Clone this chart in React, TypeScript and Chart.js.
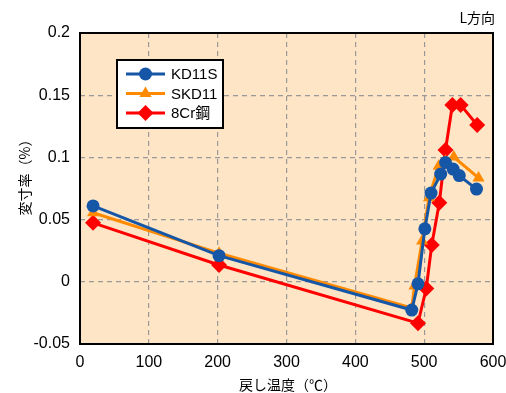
import { useEffect, useRef } from 'react';
import { Chart, registerables } from 'chart.js';

Chart.register(...registerables);

// ---- data ----
const seriesNames = ['KD11S', 'SKD11', '8Cr鋼'];

const kd11sTemp = [19, 202, 482, 491, 501, 510, 524, 531, 542, 551, 576];
const kd11sRate = [0.061, 0.021, -0.0227, -0.0016, 0.0426, 0.0713, 0.0866, 0.0959, 0.0906, 0.0854, 0.0745];

const skd11Temp = [19, 202, 482, 486, 497, 507, 521, 531, 543, 579];
const skd11Rate = [0.0555, 0.023, -0.021, -0.0034, 0.0327, 0.0675, 0.0928, 0.097, 0.1003, 0.0835];

const cr8Temp = [19, 202, 491, 503, 511, 522, 531, 541, 553, 577];
const cr8Rate = [0.0474, 0.0135, -0.0333, -0.0054, 0.0295, 0.0635, 0.106, 0.1422, 0.1422, 0.126];

const xMin = 0;
const xMax = 600;
const xStep = 100;
const yMin = -0.05;
const yMax = 0.2;
const yStep = 0.05;

const xTitle = '戻し温度（℃）';
const yTitle = '変寸率（%）';
const cornerNote = 'L方向';

// ---- styles ----
const BLUE = '#1656a6';
const ORANGE = '#ff8a00';
const RED = '#ff0000';
const PLOT_BG = '#fde5c6';
const LATIN = '"Liberation Sans", Arial, sans-serif';
const MIXED = '"Liberation Sans", "Noto Sans CJK JP", sans-serif';
const CJK = '"Noto Sans CJK JP", "Liberation Sans", sans-serif';

const toPts = (xs: number[], ys: number[]) => xs.map((x, i) => ({ x, y: ys[i] }));

function drawMarker(ctx: CanvasRenderingContext2D, kind: string, x: number, y: number, r: number) {
  ctx.beginPath();
  if (kind === 'circle') {
    ctx.arc(x, y, r, 0, Math.PI * 2);
  } else if (kind === 'triangle') {
    ctx.moveTo(x, y - r);
    ctx.lineTo(x + r * Math.sin(Math.PI * 2 / 3), y - r * Math.cos(Math.PI * 2 / 3));
    ctx.lineTo(x - r * Math.sin(Math.PI * 2 / 3), y - r * Math.cos(Math.PI * 2 / 3));
  } else {
    ctx.moveTo(x, y - r);
    ctx.lineTo(x + r, y);
    ctx.lineTo(x, y + r);
    ctx.lineTo(x - r, y);
  }
  ctx.closePath();
  ctx.fill();
}

const decor = {
  id: 'decor',
  beforeDraw(chart: any) {
    const { ctx, chartArea: a } = chart;
    ctx.save();
    ctx.fillStyle = PLOT_BG;
    ctx.fillRect(a.left, a.top, a.right - a.left, a.bottom - a.top);
    ctx.restore();
  },
  afterDraw(chart: any) {
    const { ctx, chartArea: a } = chart;
    ctx.save();
    // frame
    ctx.strokeStyle = '#000';
    ctx.lineWidth = 2;
    ctx.strokeRect(a.left, a.top, a.right - a.left, a.bottom - a.top);

    // legend
    const lx = 117, ly = 60, lw = 106, lh = 68;
    ctx.fillStyle = '#fff';
    ctx.fillRect(lx, ly, lw, lh);
    ctx.lineWidth = 2;
    ctx.strokeRect(lx, ly, lw, lh);
    const colors = [BLUE, ORANGE, RED];
    const kinds = ['circle', 'triangle', 'diamond'];
    const sizes = [6.5, 7, 8];
    const rows = [74, 93.5, 113];
    ctx.font = `15px ${MIXED}`;
    ctx.textBaseline = 'middle';
    ctx.textAlign = 'left';
    rows.forEach((ry, i) => {
      ctx.strokeStyle = colors[i];
      ctx.fillStyle = colors[i];
      ctx.lineWidth = 3;
      ctx.beginPath();
      ctx.moveTo(126, ry);
      ctx.lineTo(165, ry);
      ctx.stroke();
      drawMarker(ctx, kinds[i], 145.5, ry, sizes[i]);
      ctx.fillStyle = '#000';
      ctx.fillText(seriesNames[i], 171, ry + 1);
    });

    // titles
    ctx.fillStyle = '#000';
    ctx.font = `14px ${CJK}`;
    ctx.textAlign = 'center';
    ctx.textBaseline = 'middle';
    ctx.fillText(xTitle, 288, 385);
    ctx.save();
    ctx.translate(25, 174);
    ctx.rotate(-Math.PI / 2);
    ctx.fillText(yTitle, 0, 0);
    ctx.restore();
    ctx.textAlign = 'right';
    ctx.fillText(cornerNote, 495, 18);
    ctx.restore();
  },
};

export default function App() {
  const ref = useRef<HTMLCanvasElement>(null);
  useEffect(() => {
    document.body.style.margin = '0';
    const chart = new Chart(ref.current as HTMLCanvasElement, {
      type: 'line',
      data: {
        datasets: [
          {
            label: seriesNames[0],
            data: toPts(kd11sTemp, kd11sRate),
            borderColor: BLUE,
            backgroundColor: BLUE,
            pointStyle: 'circle',
            pointRadius: 6.5,
            borderWidth: 3,
            pointBorderWidth: 0,
          },
          {
            label: seriesNames[1],
            data: toPts(skd11Temp, skd11Rate),
            borderColor: ORANGE,
            backgroundColor: ORANGE,
            pointStyle: 'triangle',
            pointRadius: 7,
            borderWidth: 3,
            pointBorderWidth: 0,
          },
          {
            label: seriesNames[2],
            data: toPts(cr8Temp, cr8Rate),
            borderColor: RED,
            backgroundColor: RED,
            pointStyle: 'rectRot',
            pointRadius: 8,
            borderWidth: 3,
            pointBorderWidth: 0,
          },
        ],
      },
      options: {
        responsive: false,
        animation: false,
        events: [],
        layout: { padding: { top: 33, right: 13, left: 0, bottom: 0 } },
        plugins: { legend: { display: false }, tooltip: { enabled: false }, title: { display: false } },
        scales: {
          x: {
            type: 'linear',
            min: xMin,
            max: xMax,
            afterFit: (s: any) => { s.height = 49; s.paddingLeft = 0; s.paddingRight = 0; },
            ticks: { stepSize: xStep, color: '#000', font: { family: LATIN, size: 16 }, padding: 9, maxRotation: 0 },
            grid: { color: '#999', lineWidth: 1.2, drawTicks: false },
            border: { display: false, dash: [5, 4] },
          },
          y: {
            type: 'linear',
            min: yMin,
            max: yMax,
            afterFit: (s: any) => { s.width = 80; s.paddingTop = 0; s.paddingBottom = 0; },
            ticks: {
              stepSize: yStep,
              color: '#000',
              font: { family: LATIN, size: 16 },
              padding: 10,
              callback: (v: any) => String(Math.round(Number(v) * 100) / 100),
            },
            grid: { color: '#999', lineWidth: 1.2, drawTicks: false },
            border: { display: false, dash: [5, 4] },
          },
        },
      },
      plugins: [decor],
    } as any);
    return () => chart.destroy();
  }, []);
  return (
    <div style={{ width: 506, height: 393 }}>
      <canvas ref={ref} width={506} height={393} style={{ display: 'block' }} />
    </div>
  );
}
